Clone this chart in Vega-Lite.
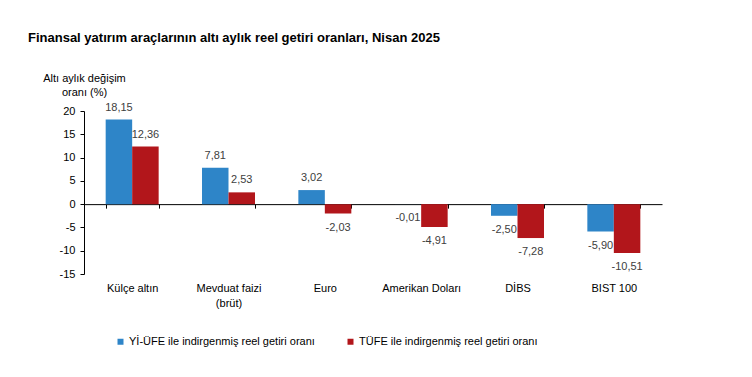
{
  "$schema": "https://vega.github.io/schema/vega-lite/v6.json",
  "width": 578,
  "height": 163,
  "autosize": {"type": "none"},
  "padding": {"left": 84, "top": 111, "right": 90, "bottom": 103},
  "background": "white",
  "title": {
    "text": "Finansal yatırım araçlarının altı aylık reel getiri oranları, Nisan 2025",
    "anchor": "start",
    "frame": "group",
    "dx": -56,
    "dy": -17,
    "offset": 10,
    "font": "Liberation Sans",
    "fontSize": 13,
    "fontWeight": "bold",
    "color": "#000000"
  },
  "config": {
    "view": {"stroke": null},
    "locale": {"number": {"decimal": ",", "thousands": ".", "grouping": [3], "currency": ["", ""], "minus": "-"}},
    "font": "Liberation Sans"
  },
  "data": {
    "values": [
      {"kategori": "Külçe altın", "seri": "Yİ-ÜFE ile indirgenmiş reel getiri oranı", "deger": 18.15},
      {"kategori": "Külçe altın", "seri": "TÜFE ile indirgenmiş reel getiri oranı", "deger": 12.36},
      {"kategori": "Mevduat faizi (brüt)", "seri": "Yİ-ÜFE ile indirgenmiş reel getiri oranı", "deger": 7.81},
      {"kategori": "Mevduat faizi (brüt)", "seri": "TÜFE ile indirgenmiş reel getiri oranı", "deger": 2.53},
      {"kategori": "Euro", "seri": "Yİ-ÜFE ile indirgenmiş reel getiri oranı", "deger": 3.02},
      {"kategori": "Euro", "seri": "TÜFE ile indirgenmiş reel getiri oranı", "deger": -2.03},
      {"kategori": "Amerikan Doları", "seri": "Yİ-ÜFE ile indirgenmiş reel getiri oranı", "deger": -0.01},
      {"kategori": "Amerikan Doları", "seri": "TÜFE ile indirgenmiş reel getiri oranı", "deger": -4.91},
      {"kategori": "DİBS", "seri": "Yİ-ÜFE ile indirgenmiş reel getiri oranı", "deger": -2.50},
      {"kategori": "DİBS", "seri": "TÜFE ile indirgenmiş reel getiri oranı", "deger": -7.28},
      {"kategori": "BIST 100", "seri": "Yİ-ÜFE ile indirgenmiş reel getiri oranı", "deger": -5.90},
      {"kategori": "BIST 100", "seri": "TÜFE ile indirgenmiş reel getiri oranı", "deger": -10.51}
    ]
  },
  "encoding": {
    "x": {
      "field": "kategori",
      "type": "nominal",
      "sort": null,
      "scale": {"paddingInner": 0.45, "paddingOuter": 0.225},
      "axis": {
        "title": null,
        "orient": "bottom",
        "offset": -69.86,
        "domainColor": "#000000",
        "tickColor": "#000000",
        "tickSize": 4,
        "tickBand": "extent",
        "labelPadding": 74,
        "labelAngle": 0,
        "labelFontSize": 11,
        "labelColor": "#000000",
        "labelLineHeight": 15,
        "labelExpr": "datum.value == 'Mevduat faizi (brüt)' ? ['Mevduat faizi', '(brüt)'] : datum.value"
      }
    },
    "xOffset": {
      "field": "seri",
      "type": "nominal",
      "sort": ["Yİ-ÜFE ile indirgenmiş reel getiri oranı", "TÜFE ile indirgenmiş reel getiri oranı"]
    },
    "y": {
      "field": "deger",
      "type": "quantitative",
      "scale": {"domain": [-15, 20], "nice": false},
      "axis": {
        "values": [-15, -10, -5, 0, 5, 10, 15, 20],
        "grid": false,
        "domainColor": "#000000",
        "tickColor": "#000000",
        "tickSize": 4,
        "labelPadding": 5,
        "labelFontSize": 11,
        "labelColor": "#000000",
        "title": ["Altı aylık değişim", "oranı (%)"],
        "titleAngle": 0,
        "titleAlign": "center",
        "titleBaseline": "top",
        "titleX": 0,
        "titleY": -39,
        "titleFontSize": 11,
        "titleFontWeight": "normal",
        "titleColor": "#000000",
        "titleLineHeight": 14
      }
    }
  },
  "layer": [
    {
      "mark": {"type": "bar"},
      "encoding": {
        "color": {
          "field": "seri",
          "type": "nominal",
          "sort": ["Yİ-ÜFE ile indirgenmiş reel getiri oranı", "TÜFE ile indirgenmiş reel getiri oranı"],
          "scale": {"range": ["#2e85c8", "#b2161b"]},
          "legend": {
            "title": null,
            "orient": "none",
            "direction": "horizontal",
            "legendX": 31,
            "legendY": 225,
            "symbolType": "square",
            "symbolSize": 36,
            "symbolStrokeWidth": 0,
            "labelFontSize": 11,
            "labelColor": "#000000",
            "labelOffset": 3,
            "labelLimit": 400,
            "columnPadding": 30
          }
        }
      }
    },
    {
      "transform": [{"filter": "datum.deger >= 0"}],
      "mark": {"type": "text", "baseline": "middle", "dy": -12, "fontSize": 11, "color": "#404040"},
      "encoding": {"text": {"field": "deger", "type": "quantitative", "format": ".2f"}}
    },
    {
      "transform": [{"filter": "datum.deger < 0"}],
      "mark": {"type": "text", "baseline": "middle", "dy": 14, "fontSize": 11, "color": "#404040"},
      "encoding": {"text": {"field": "deger", "type": "quantitative", "format": ".2f"}}
    }
  ]
}
